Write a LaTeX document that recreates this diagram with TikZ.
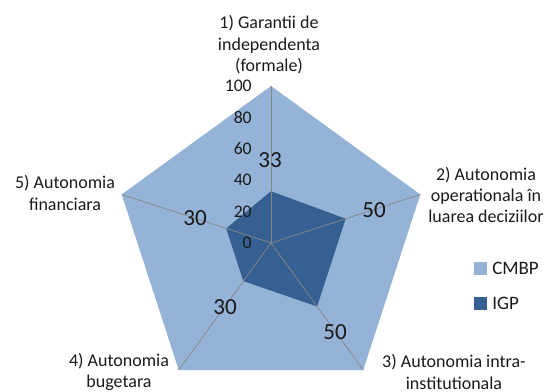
\documentclass[tikz,border=0pt]{standalone}
\usepackage{fontspec}
\setmainfont{Carlito}
\usetikzlibrary{positioning}
\definecolor{cmbpblue}{RGB}{149,179,215}
\definecolor{igpblue}{RGB}{55,96,146}
\definecolor{spokegray}{RGB}{134,134,134}
\definecolor{labelgray}{RGB}{26,26,26}

\begin{document}
\begin{tikzpicture}[x=0.025cm, y=0.025cm,
    catlabel/.style={align=center, text=labelgray, inner sep=0pt,
        font=\fontsize{12.8}{15.2}\selectfont},
    ticklabel/.style={anchor=east, text=labelgray, inner sep=0pt,
        font=\fontsize{12.6}{14}\selectfont},
    datalabel/.style={text=labelgray, inner sep=0pt,
        font=\fontsize{16.4}{18}\selectfont},
    legendkey/.style={minimum size=13*0.025cm, inner sep=0pt},
    legendtext/.style={anchor=west, text=labelgray, inner sep=0pt,
        font=\fontsize{13.5}{15}\selectfont},
    spoke/.style={draw=spokegray, line width=0.5pt}]
        \useasboundingbox (-271,-149) rectangle (276,243);
        \coordinate (c) at (0,0);
        % Corners of the axes (angle of each)
        \foreach \i/\a in {1/90, 2/18, 3/-54, 4/-126, 5/162}
            \coordinate (v\i) at (\a:157);
        % CMBP series
        \fill[cmbpblue] (v1) -- (v2) -- (v3) -- (v4) -- (v5) -- cycle;
        % IGP series
        \fill[igpblue] (90:51.8) -- (18:78.5) -- (-54:78.5) -- (-126:47.1)
            -- (162:47.1) -- cycle;
        % Spokes
        \foreach \i in {1,...,5}
            \draw[spoke] (c) -- (v\i);
        % Axis values
        \foreach \v in {0,20,...,100}
            \node[ticklabel] (t\v) at (-19,{\v*1.57}) {\v};
        % Values of IGP
        \node[datalabel] (d1) at (-1,83) {33};
        \node[datalabel] (d2) at (103,33) {50};
        \node[datalabel] (d3) at (64,-89) {50};
        \node[datalabel] (d4) at (-46,-64) {30};
        \node[datalabel] (d5) at (-76,25) {30};
        % Names of the axes
        \node[catlabel] (l1) at (-2,198) {1) Garantii de\\independenta\\(formale)};
        \node[catlabel] (l2) at (215,48) {2) Autonomia\\operationala în\\luarea deciziilor};
        \node[catlabel] (l3) at (183,-129) {3) Autonomia intra-\\institutionala};
        \node[catlabel] (l4) at (-152,-129) {4) Autonomia\\bugetara};
        \node[catlabel] (l5) at (-206,50) {5) Autonomia\\financiara};
        % Legend
        \node[legendkey, fill=cmbpblue] (kcmbp) at (209.5,-25.5) {};
        \node[legendtext] (tcmbp) at (221,-25.5) {CMBP};
        \node[legendkey, fill=igpblue] (kigp) at (209.5,-60.5) {};
        \node[legendtext] (tigp) at (221,-60.5) {IGP};
\end{tikzpicture}
\end{document}
